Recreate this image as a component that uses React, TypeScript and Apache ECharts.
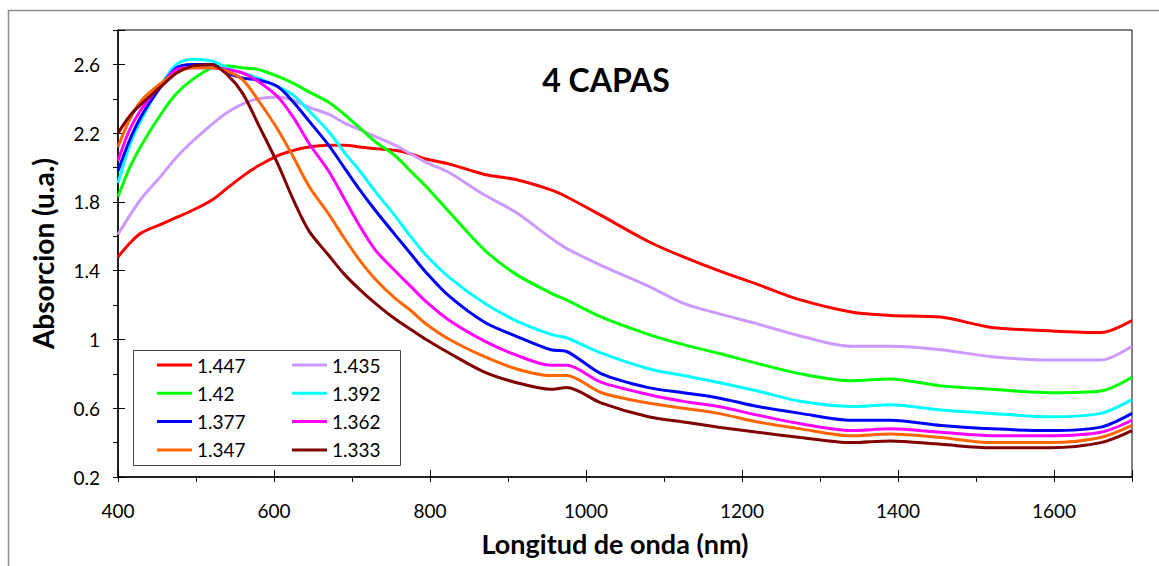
import React, { useEffect, useRef } from "react";
import * as echarts from "echarts";

const wavelengths = [400, 415, 430, 455, 475, 495, 520, 540, 560, 580, 605, 625, 645, 670, 690, 710, 730, 755, 775, 795, 825, 870, 910, 955, 975, 1020, 1080, 1125, 1170, 1220, 1275, 1340, 1390, 1455, 1520, 1595, 1660, 1700];

const s1447 = [1.48, 1.56, 1.62, 1.67, 1.71, 1.75, 1.81, 1.88, 1.95, 2.01, 2.07, 2.10, 2.12, 2.13, 2.13, 2.12, 2.11, 2.10, 2.08, 2.05, 2.02, 1.96, 1.93, 1.87, 1.83, 1.72, 1.57, 1.48, 1.40, 1.32, 1.23, 1.16, 1.14, 1.13, 1.07, 1.05, 1.04, 1.11];
const s1435 = [1.61, 1.72, 1.82, 1.95, 2.06, 2.15, 2.25, 2.32, 2.37, 2.40, 2.41, 2.39, 2.35, 2.31, 2.26, 2.22, 2.18, 2.13, 2.08, 2.03, 1.97, 1.84, 1.74, 1.59, 1.53, 1.43, 1.31, 1.21, 1.15, 1.09, 1.02, 0.96, 0.96, 0.94, 0.90, 0.88, 0.88, 0.96];
const s1420 = [1.83, 2.00, 2.13, 2.31, 2.43, 2.51, 2.58, 2.59, 2.58, 2.57, 2.53, 2.49, 2.44, 2.38, 2.31, 2.23, 2.15, 2.07, 1.98, 1.89, 1.74, 1.52, 1.38, 1.27, 1.23, 1.13, 1.03, 0.97, 0.92, 0.86, 0.80, 0.76, 0.77, 0.73, 0.71, 0.69, 0.70, 0.78];
const s1392 = [1.91, 2.13, 2.28, 2.48, 2.60, 2.63, 2.62, 2.58, 2.55, 2.52, 2.47, 2.42, 2.33, 2.21, 2.09, 1.98, 1.86, 1.72, 1.60, 1.49, 1.36, 1.21, 1.11, 1.03, 1.01, 0.92, 0.83, 0.79, 0.75, 0.70, 0.64, 0.61, 0.62, 0.59, 0.57, 0.55, 0.57, 0.65];
const s1377 = [1.98, 2.16, 2.30, 2.47, 2.58, 2.60, 2.60, 2.55, 2.52, 2.51, 2.47, 2.38, 2.27, 2.13, 2.00, 1.87, 1.75, 1.61, 1.50, 1.39, 1.25, 1.10, 1.02, 0.94, 0.93, 0.80, 0.72, 0.69, 0.66, 0.61, 0.57, 0.53, 0.53, 0.50, 0.48, 0.47, 0.49, 0.57];
const s1362 = [2.04, 2.22, 2.34, 2.48, 2.57, 2.58, 2.58, 2.57, 2.55, 2.50, 2.41, 2.29, 2.14, 1.98, 1.82, 1.66, 1.52, 1.40, 1.31, 1.22, 1.11, 0.99, 0.91, 0.85, 0.85, 0.75, 0.68, 0.64, 0.61, 0.56, 0.51, 0.47, 0.48, 0.46, 0.44, 0.44, 0.46, 0.53];
const s1347 = [2.12, 2.28, 2.39, 2.49, 2.55, 2.58, 2.58, 2.56, 2.51, 2.39, 2.22, 2.06, 1.89, 1.73, 1.59, 1.46, 1.35, 1.24, 1.17, 1.09, 1.00, 0.90, 0.83, 0.79, 0.79, 0.69, 0.63, 0.60, 0.57, 0.52, 0.48, 0.44, 0.45, 0.43, 0.40, 0.40, 0.43, 0.50];
const s1333 = [2.20, 2.30, 2.37, 2.47, 2.55, 2.59, 2.60, 2.54, 2.43, 2.25, 2.02, 1.81, 1.63, 1.49, 1.38, 1.29, 1.21, 1.12, 1.06, 1.00, 0.92, 0.81, 0.75, 0.71, 0.72, 0.63, 0.55, 0.52, 0.49, 0.46, 0.43, 0.40, 0.41, 0.39, 0.37, 0.37, 0.40, 0.47];

const seriesNames = ["1.447", "1.435", "1.42", "1.392", "1.377", "1.362", "1.347", "1.333"];
const seriesValues = [s1447, s1435, s1420, s1392, s1377, s1362, s1347, s1333];
const seriesColors = ["#FF0000", "#CC99FF", "#00FF00", "#00FFFF", "#0000FF", "#FF00FF", "#FF6600", "#800000"];

const legendLeftCol = ["1.447", "1.42", "1.377", "1.347"];
const legendRightCol = ["1.435", "1.392", "1.362", "1.333"];

const titleText = "4 CAPAS";
const xTitle = "Longitud de onda (nm)";
const yTitle = "Absorcion (u.a.)";

const FONT = "Lato, 'Open Sans', sans-serif";

export default function App() {
  const ref = useRef<HTMLDivElement>(null);
  useEffect(() => {
    document.body.style.margin = "0";
    if (!ref.current) return;
    const chart = echarts.init(ref.current, undefined, { renderer: "svg" });
    const legendCommon = {
      orient: "vertical" as const,
      top: 355.5,
      padding: 0,
      itemWidth: 35,
      itemHeight: 3,
      itemGap: 9.3,
      icon: "rect",
      z: 20,
      textStyle: { fontFamily: FONT, fontSize: 19, color: "#000", lineHeight: 19 },
    };
    chart.setOption({
      animation: false,
      backgroundColor: "#fff",
      textStyle: { fontFamily: FONT },
      grid: {
        left: 118,
        right: 27,
        top: 30,
        bottom: 89,
        show: true,
        borderColor: "#000",
        borderWidth: 1,
        backgroundColor: "transparent",
      },
      legend: [
        { ...legendCommon, left: 157, data: legendLeftCol },
        { ...legendCommon, left: 292, data: legendRightCol },
      ],
      graphic: [
        {
          type: "rect",
          shape: { x: 8.5, y: 10.5, width: 1200, height: 600 },
          style: { fill: "none", stroke: "#8c8c8c", lineWidth: 1.5 },
          z: 0,
          silent: true,
        },
        {
          type: "rect",
          shape: { x: 133.5, y: 350.5, width: 267, height: 115 },
          style: { fill: "#fff", stroke: "#404040", lineWidth: 1 },
          z: 15,
          silent: true,
        },
        {
          type: "text",
          x: 606,
          y: 79,
          style: {
            text: titleText,
            fontFamily: FONT,
            fontWeight: "bold",
            fontSize: 32,
            fill: "#000",
            textAlign: "center",
            textVerticalAlign: "middle",
          },
          z: 20,
        },
      ],
      xAxis: [
        {
          type: "value",
          min: 400,
          max: 1700,
          interval: 100,
          name: xTitle,
          nameLocation: "middle",
          nameGap: 52.5,
          nameTextStyle: {
            fontFamily: FONT,
            fontWeight: "bold",
            fontSize: 27,
            color: "#000",
            padding: [0, 20, 0, 0],
          },
          axisLine: { show: true, lineStyle: { color: "#000", width: 1.5 } },
          axisTick: { show: true, inside: false, length: 5, lineStyle: { color: "#000", width: 1 } },
          splitLine: { show: false },
          axisLabel: {
            margin: 24,
            fontFamily: FONT,
            fontSize: 19,
            color: "#000",
            formatter: (v: number) => (Math.round(v) % 200 === 0 && v < 1700 ? String(Math.round(v)) : ""),
          },
        },
        {
          type: "value",
          min: 400,
          max: 1700,
          interval: 200,
          position: "bottom",
          axisLine: { show: false },
          axisTick: { show: true, inside: true, length: 7, lineStyle: { color: "#000", width: 1 } },
          axisLabel: { show: false },
          splitLine: { show: false },
        },
      ],
      yAxis: [
        {
          type: "value",
          min: 0.2,
          max: 2.8,
          interval: 0.2,
          name: yTitle,
          nameLocation: "middle",
          nameGap: 61,
          nameTextStyle: {
            fontFamily: FONT,
            fontWeight: "bold",
            fontSize: 28,
            color: "#000",
          },
          axisLine: { show: true, lineStyle: { color: "#000", width: 1.5 } },
          axisTick: { show: true, inside: false, length: 5, lineStyle: { color: "#000", width: 1 } },
          splitLine: { show: false },
          axisLabel: {
            margin: 18,
            fontFamily: FONT,
            fontSize: 19,
            color: "#000",
            formatter: (v: number) => {
              const k = Math.round((v - 0.2) / 0.2);
              return k % 2 === 0 ? String(+v.toFixed(1)) : "";
            },
          },
        },
        {
          type: "value",
          min: 0,
          max: 2.6,
          interval: 0.4,
          position: "left",
          axisLine: { show: false },
          axisTick: { show: true, inside: true, length: 7, lineStyle: { color: "#000", width: 1 } },
          axisLabel: { show: false },
          splitLine: { show: false },
        },
      ],
      series: seriesNames.map((name, i) => ({
        name,
        type: "line",
        xAxisIndex: 0,
        yAxisIndex: 0,
        data: wavelengths.map((x, j) => [x, seriesValues[i][j]]),
        showSymbol: false,
        symbol: "none",
        smooth: 0.3,
        color: seriesColors[i],
        lineStyle: { color: seriesColors[i], width: 3 },
        z: 2 + i * 0.01,
      })),
    });
    return () => chart.dispose();
  }, []);
  return <div ref={ref} style={{ width: 1159, height: 566 }} />;
}
